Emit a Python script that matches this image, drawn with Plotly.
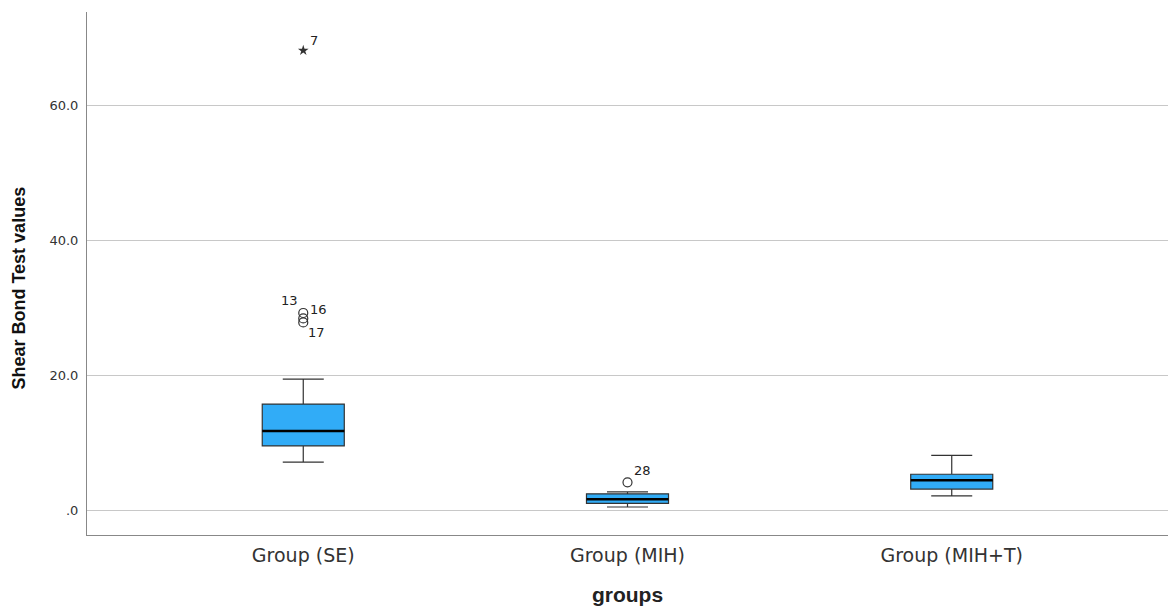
import plotly.graph_objects as go

# Groups and their box-plot statistics (shear bond strength)
groups = ["Group (SE)", "Group (MIH)", "Group (MIH+T)"]
q1 = [9.5, 1.0, 3.1]
median = [11.7, 1.6, 4.4]
q3 = [15.7, 2.4, 5.3]
lower_whisker = [7.1, 0.45, 2.1]
upper_whisker = [19.4, 2.7, 8.1]

# Outliers (circle) and extreme values (star), with case numbers
outlier_group = [0, 0, 0, 1]
outlier_value = [29.2, 28.4, 27.8, 4.1]
outlier_case = ["13", "16", "17", "28"]
extreme_group = [0]
extreme_value = [68.1]
extreme_case = ["7"]

y_ticks = [0, 20, 40, 60]
y_tick_labels = [".0", "20.0", "40.0", "60.0"]

BOX_FILL = "#31acf7"
BOX_WIDTH = 0.253
FONT = "DejaVu Sans, sans-serif"
BOLD_FONT = "Liberation Sans, Arial, sans-serif"

fig = go.Figure()

for i, g in enumerate(groups):
    fig.add_trace(go.Box(
        x=[i], q1=[q1[i]], median=[median[i]], q3=[q3[i]],
        lowerfence=[lower_whisker[i]], upperfence=[upper_whisker[i]],
        width=BOX_WIDTH, whiskerwidth=0.5,
        fillcolor=BOX_FILL, line=dict(color="#333333", width=1.2),
        boxpoints=False, hoverinfo="skip", showlegend=False, name=g,
    ))
    # thick median bar
    fig.add_shape(type="line", xref="x", yref="y",
                  x0=i - BOX_WIDTH / 2, x1=i + BOX_WIDTH / 2,
                  y0=median[i], y1=median[i],
                  line=dict(color="black", width=2.5), layer="above")

fig.add_trace(go.Scatter(
    x=outlier_group, y=outlier_value, mode="markers",
    marker=dict(symbol="circle-open", size=9, color="#333333", line=dict(width=1.2)),
    showlegend=False, hoverinfo="y",
))
fig.add_trace(go.Scatter(
    x=extreme_group, y=extreme_value, mode="markers",
    marker=dict(symbol="star", size=8, color="#333333"),
    showlegend=False, hoverinfo="y",
))

# case-number labels placed beside their markers
label_offsets = {"13": (-14, -12), "16": (15, -9), "17": (13, 10), "28": (15, -12)}
for g, v, c in zip(outlier_group, outlier_value, outlier_case):
    dx, dy = label_offsets[c]
    fig.add_annotation(x=g, y=v, text=c, showarrow=False, xshift=dx, yshift=-dy,
                       font=dict(family=FONT, size=13, color="#222222"))
for g, v, c in zip(extreme_group, extreme_value, extreme_case):
    fig.add_annotation(x=g, y=v, text=c, showarrow=False, xshift=11, yshift=10,
                       font=dict(family=FONT, size=13, color="#222222"))

# vertical axis title
fig.add_annotation(xref="paper", yref="paper", x=-0.0625, y=0.472,
                   text="<b>Shear Bond Test values</b>", textangle=-90,
                   showarrow=False, xanchor="center", yanchor="middle",
                   font=dict(family=BOLD_FONT, size=18, color="#111111"))

fig.update_layout(
    width=1168, height=606,
    margin=dict(l=87, r=0, t=12, b=71),
    plot_bgcolor="white", paper_bgcolor="white",
    font=dict(family=FONT, color="#222222"),
    xaxis=dict(
        range=[-0.667, 2.667], tickmode="array",
        tickvals=list(range(len(groups))), ticktext=groups,
        tickfont=dict(size=19, color="#333333"),
        showgrid=False, zeroline=False,
        showline=True, linecolor="#888888", linewidth=1,
        ticks="", ticklabelstandoff=3,
        title=dict(text="<b>groups</b>",
                   font=dict(family=BOLD_FONT, size=21, color="#222222"), standoff=22),
    ),
    yaxis=dict(
        range=[-3.7, 73.8], tickmode="array",
        tickvals=y_ticks, ticktext=y_tick_labels,
        tickfont=dict(size=13, color="#333333"),
        showgrid=True, gridcolor="#c8c8c8", gridwidth=1,
        zeroline=False, showline=True, linecolor="#888888", linewidth=1,
        ticks="", ticklabelstandoff=5,
    ),
)

fig.write_html("out.html")
